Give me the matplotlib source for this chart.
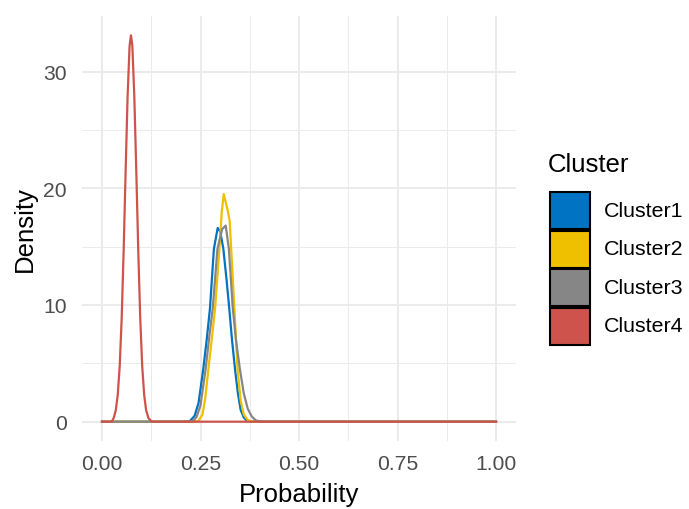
import matplotlib
matplotlib.use("Agg")
import matplotlib.pyplot as plt
from matplotlib.patches import Rectangle

plt.rcParams['font.family'] = ['Liberation Sans', 'DejaVu Sans']

# ---- data ----
clusters = ["Cluster1", "Cluster2", "Cluster3", "Cluster4"]
colors = ["#0073C2", "#EFC000", "#868686", "#CD534C"]

x1 = [0.00, 0.205, 0.223, 0.235, 0.245, 0.257, 0.266, 0.274, 0.284, 0.2936, 0.300, 0.308,
      0.316, 0.323, 0.330, 0.3376, 0.345, 0.352, 0.360, 0.368, 0.380, 1.00]
y1 = [0, 0, 0.05, 0.5, 1.6, 4.5, 7.1, 9.7, 14.8, 16.6, 16.3, 14.8,
      12.2, 9.7, 7.0, 4.5, 2.4, 1.0, 0.35, 0.08, 0, 0]

x2 = [0.00, 0.230, 0.244, 0.255, 0.262, 0.270, 0.279, 0.287, 0.298, 0.304, 0.309, 0.314,
      0.319, 0.324, 0.330, 0.336, 0.344, 0.352, 0.360, 0.370, 0.380, 0.390, 1.00]
y2 = [0, 0, 0.05, 0.6, 2.0, 4.5, 7.2, 9.7, 14.8, 18.0, 19.5, 18.8,
      18.1, 17.2, 13.5, 9.7, 4.5, 1.8, 0.6, 0.15, 0.02, 0, 0]

x3 = [0.00, 0.215, 0.231, 0.240, 0.250, 0.263, 0.272, 0.281, 0.293, 0.305, 0.314, 0.322,
      0.332, 0.340, 0.350, 0.360, 0.370, 0.380, 0.390, 0.400, 0.415, 1.00]
y3 = [0, 0, 0.05, 0.4, 1.4, 4.5, 7.2, 9.7, 14.8, 16.5, 16.8, 14.8,
      9.7, 7.0, 4.5, 2.4, 1.1, 0.45, 0.12, 0.02, 0, 0]

x4 = [0.000, 0.025, 0.030, 0.035, 0.040, 0.045, 0.050, 0.055, 0.060, 0.065, 0.070, 0.0735,
      0.077, 0.082, 0.087, 0.092, 0.097, 0.102, 0.107, 0.112, 0.118, 0.125, 0.130, 1.000]
y4 = [0, 0, 0.35, 0.98, 2.3, 4.8, 8.9, 14.7, 21.5, 27.9, 32.2, 33.1,
      32.2, 27.9, 21.5, 14.7, 8.9, 4.8, 2.3, 0.98, 0.30, 0.05, 0, 0]

xs = [x1, x2, x3, x4]
ys = [y1, y2, y3, y4]

x_ticks = [0.00, 0.25, 0.50, 0.75, 1.00]
x_tick_labels = ["0.00", "0.25", "0.50", "0.75", "1.00"]
y_ticks = [0, 10, 20, 30]
y_tick_labels = ["0", "10", "20", "30"]

# ---- figure ----
W, H = 689, 510
fig = plt.figure(figsize=(W / 100, H / 100), dpi=100)
fig.patch.set_facecolor("white")

left_px, right_px, top_px, bottom_px = 82.3, 515.7, 17.0, 442.0
ax = fig.add_axes([left_px / W, 1 - bottom_px / H,
                   (right_px - left_px) / W, (bottom_px - top_px) / H])
ax.set_facecolor("white")

for xv, yv, c in zip(xs, ys, colors):
    ax.plot(xv, yv, color=c, linewidth=1.6, solid_joinstyle="round", zorder=3)

ymax = max(max(y) for y in ys)
ax.set_xlim(-0.05, 1.05)
ax.set_ylim(-0.05 * ymax, 1.05 * ymax)

ax.set_xticks(x_ticks)
ax.set_xticklabels(x_tick_labels)
ax.set_yticks(y_ticks)
ax.set_yticklabels(y_tick_labels)
ax.set_xticks([0.125, 0.375, 0.625, 0.875], minor=True)
ax.set_yticks([5, 15, 25], minor=True)

ax.grid(which="major", color="#EBEBEB", linewidth=1.4, zorder=0)
ax.grid(which="minor", color="#EBEBEB", linewidth=0.7, zorder=0)
ax.set_axisbelow(True)
for s in ax.spines.values():
    s.set_visible(False)
ax.tick_params(which="both", length=0)
ax.tick_params(axis="both", labelsize=15.2, labelcolor="#4D4D4D")
ax.tick_params(axis="x", pad=9)
ax.tick_params(axis="y", pad=11)

ax.set_xlabel("Probability", fontsize=18.5, color="black", labelpad=7)
ax.set_ylabel("Density", fontsize=18.5, color="black", labelpad=5)

# ---- legend (drawn in a pixel-coordinate overlay axes) ----
lx0, lx1, ly0, ly1 = 530, 689, 130, 370
lax = fig.add_axes([lx0 / W, 1 - ly1 / H, (lx1 - lx0) / W, (ly1 - ly0) / H])
lax.set_xlim(lx0, lx1)
lax.set_ylim(ly1, ly0)
lax.axis("off")

lax.text(548, 165, "Cluster", fontsize=18.5, ha="left", va="center")
key_w, key_h, pitch, top0 = 40, 37, 38.5, 193
for i, (name, c) in enumerate(zip(clusters, colors)):
    y_top = top0 + i * pitch
    lax.add_patch(Rectangle((549.5, y_top), key_w, key_h, facecolor=c,
                            edgecolor="black", linewidth=1.5))
    lax.text(604, y_top + key_h / 2, name, fontsize=15.4, ha="left", va="center")

fig.savefig("out.png", dpi=100, facecolor="white")
